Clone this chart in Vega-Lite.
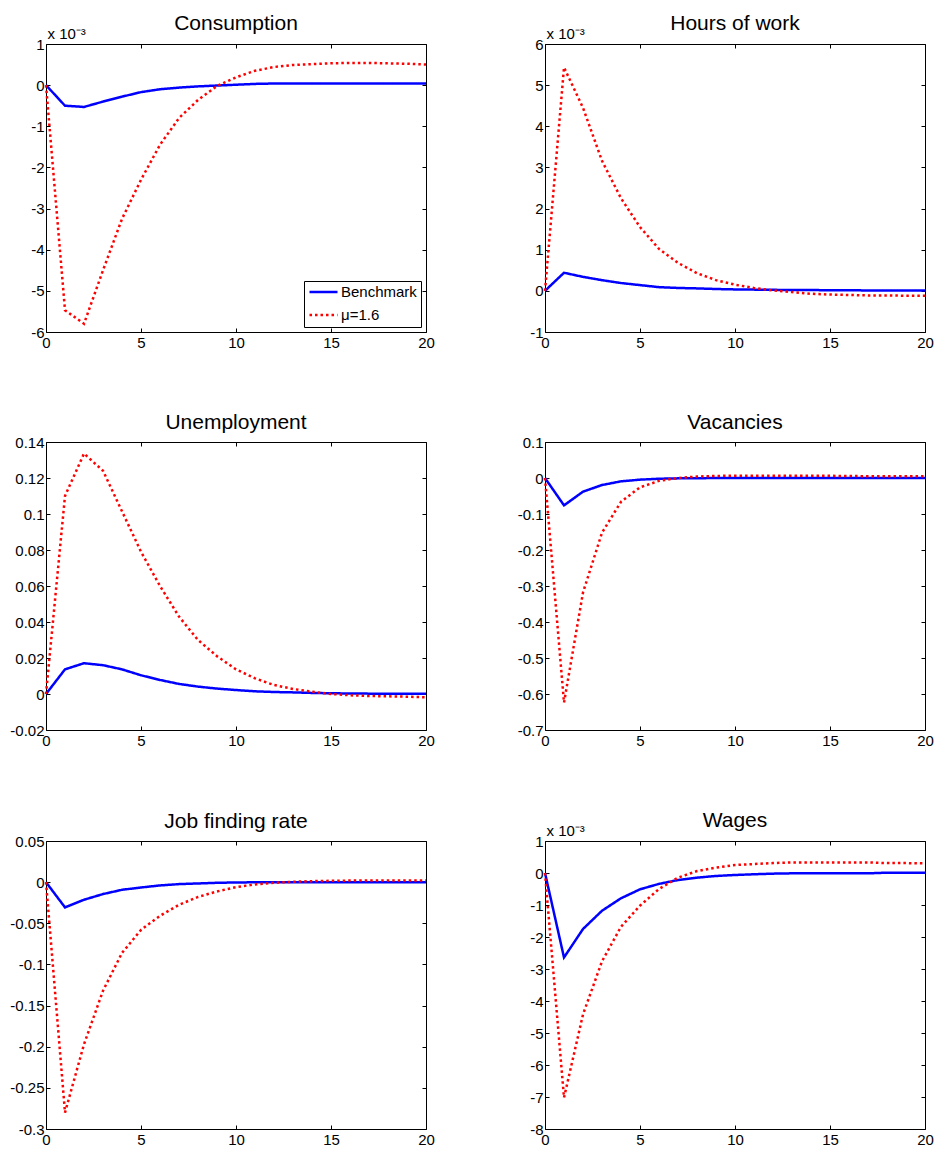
{
"$schema": "https://vega.github.io/schema/vega-lite/v6.json",
"background": "white",
"padding": {"left": 5, "top": 12, "right": 0, "bottom": 0},
"autosize": {"type": "pad"},
"data": {"values": [
{"panel":"Consumption","series":"Benchmark","t":0,"value":0},
{"panel":"Consumption","series":"Benchmark","t":1,"value":-0.5e-3},
{"panel":"Consumption","series":"Benchmark","t":2,"value":-0.53e-3},
{"panel":"Consumption","series":"Benchmark","t":3,"value":-0.4e-3},
{"panel":"Consumption","series":"Benchmark","t":4,"value":-0.28e-3},
{"panel":"Consumption","series":"Benchmark","t":5,"value":-0.17e-3},
{"panel":"Consumption","series":"Benchmark","t":6,"value":-0.1e-3},
{"panel":"Consumption","series":"Benchmark","t":7,"value":-0.06e-3},
{"panel":"Consumption","series":"Benchmark","t":8,"value":-0.03e-3},
{"panel":"Consumption","series":"Benchmark","t":9,"value":-0.01e-3},
{"panel":"Consumption","series":"Benchmark","t":10,"value":0.01e-3},
{"panel":"Consumption","series":"Benchmark","t":11,"value":0.03e-3},
{"panel":"Consumption","series":"Benchmark","t":12,"value":0.04e-3},
{"panel":"Consumption","series":"Benchmark","t":13,"value":0.04e-3},
{"panel":"Consumption","series":"Benchmark","t":14,"value":0.04e-3},
{"panel":"Consumption","series":"Benchmark","t":15,"value":0.04e-3},
{"panel":"Consumption","series":"Benchmark","t":16,"value":0.04e-3},
{"panel":"Consumption","series":"Benchmark","t":17,"value":0.04e-3},
{"panel":"Consumption","series":"Benchmark","t":18,"value":0.04e-3},
{"panel":"Consumption","series":"Benchmark","t":19,"value":0.04e-3},
{"panel":"Consumption","series":"Benchmark","t":20,"value":0.04e-3},
{"panel":"Consumption","series":"μ=1.6","t":0,"value":0},
{"panel":"Consumption","series":"μ=1.6","t":1,"value":-5.47e-3},
{"panel":"Consumption","series":"μ=1.6","t":2,"value":-5.8e-3},
{"panel":"Consumption","series":"μ=1.6","t":3,"value":-4.5e-3},
{"panel":"Consumption","series":"μ=1.6","t":4,"value":-3.25e-3},
{"panel":"Consumption","series":"μ=1.6","t":5,"value":-2.3e-3},
{"panel":"Consumption","series":"μ=1.6","t":6,"value":-1.45e-3},
{"panel":"Consumption","series":"μ=1.6","t":7,"value":-0.8e-3},
{"panel":"Consumption","series":"μ=1.6","t":8,"value":-0.36e-3},
{"panel":"Consumption","series":"μ=1.6","t":9,"value":-0.02e-3},
{"panel":"Consumption","series":"μ=1.6","t":10,"value":0.19e-3},
{"panel":"Consumption","series":"μ=1.6","t":11,"value":0.35e-3},
{"panel":"Consumption","series":"μ=1.6","t":12,"value":0.44e-3},
{"panel":"Consumption","series":"μ=1.6","t":13,"value":0.49e-3},
{"panel":"Consumption","series":"μ=1.6","t":14,"value":0.51e-3},
{"panel":"Consumption","series":"μ=1.6","t":15,"value":0.53e-3},
{"panel":"Consumption","series":"μ=1.6","t":16,"value":0.54e-3},
{"panel":"Consumption","series":"μ=1.6","t":17,"value":0.54e-3},
{"panel":"Consumption","series":"μ=1.6","t":18,"value":0.53e-3},
{"panel":"Consumption","series":"μ=1.6","t":19,"value":0.52e-3},
{"panel":"Consumption","series":"μ=1.6","t":20,"value":0.5e-3},
{"panel":"Hours","series":"Benchmark","t":0,"value":0},
{"panel":"Hours","series":"Benchmark","t":1,"value":0.44e-3},
{"panel":"Hours","series":"Benchmark","t":2,"value":0.34e-3},
{"panel":"Hours","series":"Benchmark","t":3,"value":0.26e-3},
{"panel":"Hours","series":"Benchmark","t":4,"value":0.19e-3},
{"panel":"Hours","series":"Benchmark","t":5,"value":0.14e-3},
{"panel":"Hours","series":"Benchmark","t":6,"value":0.09e-3},
{"panel":"Hours","series":"Benchmark","t":7,"value":0.07e-3},
{"panel":"Hours","series":"Benchmark","t":8,"value":0.06e-3},
{"panel":"Hours","series":"Benchmark","t":9,"value":0.045e-3},
{"panel":"Hours","series":"Benchmark","t":10,"value":0.035e-3},
{"panel":"Hours","series":"Benchmark","t":11,"value":0.03e-3},
{"panel":"Hours","series":"Benchmark","t":12,"value":0.025e-3},
{"panel":"Hours","series":"Benchmark","t":13,"value":0.02e-3},
{"panel":"Hours","series":"Benchmark","t":14,"value":0.02e-3},
{"panel":"Hours","series":"Benchmark","t":15,"value":0.015e-3},
{"panel":"Hours","series":"Benchmark","t":16,"value":0.015e-3},
{"panel":"Hours","series":"Benchmark","t":17,"value":0.01e-3},
{"panel":"Hours","series":"Benchmark","t":18,"value":0.01e-3},
{"panel":"Hours","series":"Benchmark","t":19,"value":0.01e-3},
{"panel":"Hours","series":"Benchmark","t":20,"value":0.01e-3},
{"panel":"Hours","series":"μ=1.6","t":0,"value":0},
{"panel":"Hours","series":"μ=1.6","t":1,"value":5.43e-3},
{"panel":"Hours","series":"μ=1.6","t":2,"value":4.45e-3},
{"panel":"Hours","series":"μ=1.6","t":3,"value":3.16e-3},
{"panel":"Hours","series":"μ=1.6","t":4,"value":2.25e-3},
{"panel":"Hours","series":"μ=1.6","t":5,"value":1.55e-3},
{"panel":"Hours","series":"μ=1.6","t":6,"value":1.02e-3},
{"panel":"Hours","series":"μ=1.6","t":7,"value":0.68e-3},
{"panel":"Hours","series":"μ=1.6","t":8,"value":0.43e-3},
{"panel":"Hours","series":"μ=1.6","t":9,"value":0.26e-3},
{"panel":"Hours","series":"μ=1.6","t":10,"value":0.15e-3},
{"panel":"Hours","series":"μ=1.6","t":11,"value":0.07e-3},
{"panel":"Hours","series":"μ=1.6","t":12,"value":0.01e-3},
{"panel":"Hours","series":"μ=1.6","t":13,"value":-0.03e-3},
{"panel":"Hours","series":"μ=1.6","t":14,"value":-0.07e-3},
{"panel":"Hours","series":"μ=1.6","t":15,"value":-0.09e-3},
{"panel":"Hours","series":"μ=1.6","t":16,"value":-0.1e-3},
{"panel":"Hours","series":"μ=1.6","t":17,"value":-0.11e-3},
{"panel":"Hours","series":"μ=1.6","t":18,"value":-0.11e-3},
{"panel":"Hours","series":"μ=1.6","t":19,"value":-0.12e-3},
{"panel":"Hours","series":"μ=1.6","t":20,"value":-0.12e-3},
{"panel":"Unemployment","series":"Benchmark","t":0,"value":0},
{"panel":"Unemployment","series":"Benchmark","t":1,"value":0.0137},
{"panel":"Unemployment","series":"Benchmark","t":2,"value":0.0171},
{"panel":"Unemployment","series":"Benchmark","t":3,"value":0.016},
{"panel":"Unemployment","series":"Benchmark","t":4,"value":0.0137},
{"panel":"Unemployment","series":"Benchmark","t":5,"value":0.0104},
{"panel":"Unemployment","series":"Benchmark","t":6,"value":0.0078},
{"panel":"Unemployment","series":"Benchmark","t":7,"value":0.0056},
{"panel":"Unemployment","series":"Benchmark","t":8,"value":0.0041},
{"panel":"Unemployment","series":"Benchmark","t":9,"value":0.003},
{"panel":"Unemployment","series":"Benchmark","t":10,"value":0.0022},
{"panel":"Unemployment","series":"Benchmark","t":11,"value":0.0015},
{"panel":"Unemployment","series":"Benchmark","t":12,"value":0.0011},
{"panel":"Unemployment","series":"Benchmark","t":13,"value":0.0009},
{"panel":"Unemployment","series":"Benchmark","t":14,"value":0.0006},
{"panel":"Unemployment","series":"Benchmark","t":15,"value":0.0004},
{"panel":"Unemployment","series":"Benchmark","t":16,"value":0.0003},
{"panel":"Unemployment","series":"Benchmark","t":17,"value":0.0002},
{"panel":"Unemployment","series":"Benchmark","t":18,"value":0.0002},
{"panel":"Unemployment","series":"Benchmark","t":19,"value":0.0001},
{"panel":"Unemployment","series":"Benchmark","t":20,"value":0.0001},
{"panel":"Unemployment","series":"μ=1.6","t":0,"value":0},
{"panel":"Unemployment","series":"μ=1.6","t":1,"value":0.11},
{"panel":"Unemployment","series":"μ=1.6","t":2,"value":0.1336},
{"panel":"Unemployment","series":"μ=1.6","t":3,"value":0.124},
{"panel":"Unemployment","series":"μ=1.6","t":4,"value":0.1015},
{"panel":"Unemployment","series":"μ=1.6","t":5,"value":0.079},
{"panel":"Unemployment","series":"μ=1.6","t":6,"value":0.06},
{"panel":"Unemployment","series":"μ=1.6","t":7,"value":0.043},
{"panel":"Unemployment","series":"μ=1.6","t":8,"value":0.03},
{"panel":"Unemployment","series":"μ=1.6","t":9,"value":0.021},
{"panel":"Unemployment","series":"μ=1.6","t":10,"value":0.0137},
{"panel":"Unemployment","series":"μ=1.6","t":11,"value":0.0087},
{"panel":"Unemployment","series":"μ=1.6","t":12,"value":0.005},
{"panel":"Unemployment","series":"μ=1.6","t":13,"value":0.0028},
{"panel":"Unemployment","series":"μ=1.6","t":14,"value":0.0013},
{"panel":"Unemployment","series":"μ=1.6","t":15,"value":0},
{"panel":"Unemployment","series":"μ=1.6","t":16,"value":-0.0007},
{"panel":"Unemployment","series":"μ=1.6","t":17,"value":-0.0011},
{"panel":"Unemployment","series":"μ=1.6","t":18,"value":-0.0013},
{"panel":"Unemployment","series":"μ=1.6","t":19,"value":-0.0015},
{"panel":"Unemployment","series":"μ=1.6","t":20,"value":-0.0018},
{"panel":"Vacancies","series":"Benchmark","t":0,"value":0},
{"panel":"Vacancies","series":"Benchmark","t":1,"value":-0.076},
{"panel":"Vacancies","series":"Benchmark","t":2,"value":-0.038},
{"panel":"Vacancies","series":"Benchmark","t":3,"value":-0.0195},
{"panel":"Vacancies","series":"Benchmark","t":4,"value":-0.0093},
{"panel":"Vacancies","series":"Benchmark","t":5,"value":-0.0046},
{"panel":"Vacancies","series":"Benchmark","t":6,"value":-0.002},
{"panel":"Vacancies","series":"Benchmark","t":7,"value":-0.001},
{"panel":"Vacancies","series":"Benchmark","t":8,"value":-0.0005},
{"panel":"Vacancies","series":"Benchmark","t":9,"value":-0.0002},
{"panel":"Vacancies","series":"Benchmark","t":10,"value":0},
{"panel":"Vacancies","series":"Benchmark","t":11,"value":0},
{"panel":"Vacancies","series":"Benchmark","t":12,"value":0},
{"panel":"Vacancies","series":"Benchmark","t":13,"value":0},
{"panel":"Vacancies","series":"Benchmark","t":14,"value":0},
{"panel":"Vacancies","series":"Benchmark","t":15,"value":0},
{"panel":"Vacancies","series":"Benchmark","t":16,"value":0},
{"panel":"Vacancies","series":"Benchmark","t":17,"value":0},
{"panel":"Vacancies","series":"Benchmark","t":18,"value":0},
{"panel":"Vacancies","series":"Benchmark","t":19,"value":0},
{"panel":"Vacancies","series":"Benchmark","t":20,"value":0},
{"panel":"Vacancies","series":"μ=1.6","t":0,"value":0},
{"panel":"Vacancies","series":"μ=1.6","t":1,"value":-0.624},
{"panel":"Vacancies","series":"μ=1.6","t":2,"value":-0.318},
{"panel":"Vacancies","series":"μ=1.6","t":3,"value":-0.152},
{"panel":"Vacancies","series":"μ=1.6","t":4,"value":-0.066},
{"panel":"Vacancies","series":"μ=1.6","t":5,"value":-0.026},
{"panel":"Vacancies","series":"μ=1.6","t":6,"value":-0.008},
{"panel":"Vacancies","series":"μ=1.6","t":7,"value":0},
{"panel":"Vacancies","series":"μ=1.6","t":8,"value":0.004},
{"panel":"Vacancies","series":"μ=1.6","t":9,"value":0.0056},
{"panel":"Vacancies","series":"μ=1.6","t":10,"value":0.0065},
{"panel":"Vacancies","series":"μ=1.6","t":11,"value":0.0065},
{"panel":"Vacancies","series":"μ=1.6","t":12,"value":0.0065},
{"panel":"Vacancies","series":"μ=1.6","t":13,"value":0.006},
{"panel":"Vacancies","series":"μ=1.6","t":14,"value":0.006},
{"panel":"Vacancies","series":"μ=1.6","t":15,"value":0.006},
{"panel":"Vacancies","series":"μ=1.6","t":16,"value":0.0055},
{"panel":"Vacancies","series":"μ=1.6","t":17,"value":0.005},
{"panel":"Vacancies","series":"μ=1.6","t":18,"value":0.005},
{"panel":"Vacancies","series":"μ=1.6","t":19,"value":0.005},
{"panel":"Vacancies","series":"μ=1.6","t":20,"value":0.005},
{"panel":"Job","series":"Benchmark","t":0,"value":0},
{"panel":"Job","series":"Benchmark","t":1,"value":-0.0307},
{"panel":"Job","series":"Benchmark","t":2,"value":-0.0214},
{"panel":"Job","series":"Benchmark","t":3,"value":-0.0145},
{"panel":"Job","series":"Benchmark","t":4,"value":-0.0093},
{"panel":"Job","series":"Benchmark","t":5,"value":-0.0065},
{"panel":"Job","series":"Benchmark","t":6,"value":-0.004},
{"panel":"Job","series":"Benchmark","t":7,"value":-0.0024},
{"panel":"Job","series":"Benchmark","t":8,"value":-0.0016},
{"panel":"Job","series":"Benchmark","t":9,"value":-0.0008},
{"panel":"Job","series":"Benchmark","t":10,"value":-0.0004},
{"panel":"Job","series":"Benchmark","t":11,"value":-0.0002},
{"panel":"Job","series":"Benchmark","t":12,"value":0},
{"panel":"Job","series":"Benchmark","t":13,"value":0},
{"panel":"Job","series":"Benchmark","t":14,"value":0},
{"panel":"Job","series":"Benchmark","t":15,"value":0},
{"panel":"Job","series":"Benchmark","t":16,"value":0},
{"panel":"Job","series":"Benchmark","t":17,"value":0},
{"panel":"Job","series":"Benchmark","t":18,"value":0},
{"panel":"Job","series":"Benchmark","t":19,"value":0},
{"panel":"Job","series":"Benchmark","t":20,"value":0},
{"panel":"Job","series":"μ=1.6","t":0,"value":0},
{"panel":"Job","series":"μ=1.6","t":1,"value":-0.28},
{"panel":"Job","series":"μ=1.6","t":2,"value":-0.197},
{"panel":"Job","series":"μ=1.6","t":3,"value":-0.132},
{"panel":"Job","series":"μ=1.6","t":4,"value":-0.086},
{"panel":"Job","series":"μ=1.6","t":5,"value":-0.058},
{"panel":"Job","series":"μ=1.6","t":6,"value":-0.041},
{"panel":"Job","series":"μ=1.6","t":7,"value":-0.0275},
{"panel":"Job","series":"μ=1.6","t":8,"value":-0.018},
{"panel":"Job","series":"μ=1.6","t":9,"value":-0.0113},
{"panel":"Job","series":"μ=1.6","t":10,"value":-0.006},
{"panel":"Job","series":"μ=1.6","t":11,"value":-0.0028},
{"panel":"Job","series":"μ=1.6","t":12,"value":-0.0008},
{"panel":"Job","series":"μ=1.6","t":13,"value":0.0004},
{"panel":"Job","series":"μ=1.6","t":14,"value":0.0012},
{"panel":"Job","series":"μ=1.6","t":15,"value":0.0016},
{"panel":"Job","series":"μ=1.6","t":16,"value":0.0019},
{"panel":"Job","series":"μ=1.6","t":17,"value":0.002},
{"panel":"Job","series":"μ=1.6","t":18,"value":0.002},
{"panel":"Job","series":"μ=1.6","t":19,"value":0.002},
{"panel":"Job","series":"μ=1.6","t":20,"value":0.002},
{"panel":"Wages","series":"Benchmark","t":0,"value":0},
{"panel":"Wages","series":"Benchmark","t":1,"value":-2.64e-3},
{"panel":"Wages","series":"Benchmark","t":2,"value":-1.75e-3},
{"panel":"Wages","series":"Benchmark","t":3,"value":-1.18e-3},
{"panel":"Wages","series":"Benchmark","t":4,"value":-0.79e-3},
{"panel":"Wages","series":"Benchmark","t":5,"value":-0.51e-3},
{"panel":"Wages","series":"Benchmark","t":6,"value":-0.34e-3},
{"panel":"Wages","series":"Benchmark","t":7,"value":-0.22e-3},
{"panel":"Wages","series":"Benchmark","t":8,"value":-0.145e-3},
{"panel":"Wages","series":"Benchmark","t":9,"value":-0.093e-3},
{"panel":"Wages","series":"Benchmark","t":10,"value":-0.062e-3},
{"panel":"Wages","series":"Benchmark","t":11,"value":-0.04e-3},
{"panel":"Wages","series":"Benchmark","t":12,"value":-0.02e-3},
{"panel":"Wages","series":"Benchmark","t":13,"value":-0.01e-3},
{"panel":"Wages","series":"Benchmark","t":14,"value":-0.01e-3},
{"panel":"Wages","series":"Benchmark","t":15,"value":-0.01e-3},
{"panel":"Wages","series":"Benchmark","t":16,"value":-0.01e-3},
{"panel":"Wages","series":"Benchmark","t":17,"value":-0.01e-3},
{"panel":"Wages","series":"Benchmark","t":18,"value":0.01e-3},
{"panel":"Wages","series":"Benchmark","t":19,"value":0.01e-3},
{"panel":"Wages","series":"Benchmark","t":20,"value":0.01e-3},
{"panel":"Wages","series":"μ=1.6","t":0,"value":0},
{"panel":"Wages","series":"μ=1.6","t":1,"value":-7.02e-3},
{"panel":"Wages","series":"μ=1.6","t":2,"value":-4.42e-3},
{"panel":"Wages","series":"μ=1.6","t":3,"value":-2.76e-3},
{"panel":"Wages","series":"μ=1.6","t":4,"value":-1.68e-3},
{"panel":"Wages","series":"μ=1.6","t":5,"value":-1.02e-3},
{"panel":"Wages","series":"μ=1.6","t":6,"value":-0.5e-3},
{"panel":"Wages","series":"μ=1.6","t":7,"value":-0.145e-3},
{"panel":"Wages","series":"μ=1.6","t":8,"value":0.06e-3},
{"panel":"Wages","series":"μ=1.6","t":9,"value":0.17e-3},
{"panel":"Wages","series":"μ=1.6","t":10,"value":0.25e-3},
{"panel":"Wages","series":"μ=1.6","t":11,"value":0.28e-3},
{"panel":"Wages","series":"μ=1.6","t":12,"value":0.31e-3},
{"panel":"Wages","series":"μ=1.6","t":13,"value":0.33e-3},
{"panel":"Wages","series":"μ=1.6","t":14,"value":0.33e-3},
{"panel":"Wages","series":"μ=1.6","t":15,"value":0.33e-3},
{"panel":"Wages","series":"μ=1.6","t":16,"value":0.33e-3},
{"panel":"Wages","series":"μ=1.6","t":17,"value":0.33e-3},
{"panel":"Wages","series":"μ=1.6","t":18,"value":0.31e-3},
{"panel":"Wages","series":"μ=1.6","t":19,"value":0.31e-3},
{"panel":"Wages","series":"μ=1.6","t":20,"value":0.3e-3}
]},
"columns": 2,
"spacing": {"row": 60, "column": 69},
"concat": [
{
 "title": {"text": "Consumption", "offset": -8},
 "width": 380, "height": 288,
 "transform": [{"filter": "datum.panel === 'Consumption'"}],
 "layer": [
  {"mark": {"type": "line", "strokeWidth": 2.5},
   "encoding": {
    "x": {"field": "t", "type": "quantitative", "scale": {"domain": [0, 20], "nice": false}, "axis": {"values": [0, 5, 10, 15, 20], "title": null}},
    "y": {"field": "value", "type": "quantitative", "scale": {"domain": [-0.006, 0.001], "nice": false, "zero": false}, "axis": {"values": [-0.006, -0.005, -0.004, -0.003, -0.002, -0.001, 0, 0.001], "title": "x 10⁻³", "labelExpr": "replace(format(datum.value*1000,'.0f'),'−','-')"}},
    "color": {"field": "series", "type": "nominal", "scale": {"domain": ["Benchmark", "μ=1.6"], "range": ["#0000ff", "#ff0000"]}, "legend": {"title": null}},
    "strokeDash": {"field": "series", "type": "nominal", "scale": {"domain": ["Benchmark", "μ=1.6"], "range": [[1, 0], [2.5, 3]]}, "legend": {"title": null}}
   }},
  {"mark": {"type": "line", "opacity": 0},
   "encoding": {
    "x": {"field": "t", "type": "quantitative", "axis": {"orient": "top", "labels": false, "values": [0, 5, 10, 15, 20], "title": null}},
    "y": {"field": "value", "type": "quantitative", "axis": {"orient": "right", "labels": false, "values": [-0.006, -0.005, -0.004, -0.003, -0.002, -0.001, 0, 0.001], "title": null}}
   }}
 ],
 "resolve": {"axis": {"x": "independent", "y": "independent"}}
},
{
 "title": {"text": "Hours of work", "offset": -8},
 "width": 380, "height": 288,
 "transform": [{"filter": "datum.panel === 'Hours'"}],
 "layer": [
  {"mark": {"type": "line", "strokeWidth": 2.5},
   "encoding": {
    "x": {"field": "t", "type": "quantitative", "scale": {"domain": [0, 20], "nice": false}, "axis": {"values": [0, 5, 10, 15, 20], "title": null}},
    "y": {"field": "value", "type": "quantitative", "scale": {"domain": [-0.001, 0.006], "nice": false, "zero": false}, "axis": {"values": [-0.001, 0, 0.001, 0.002, 0.003, 0.004, 0.005, 0.006], "title": "x 10⁻³", "labelExpr": "replace(format(datum.value*1000,'.0f'),'−','-')"}},
    "color": {"field": "series", "type": "nominal", "scale": {"domain": ["Benchmark", "μ=1.6"], "range": ["#0000ff", "#ff0000"]}, "legend": null},
    "strokeDash": {"field": "series", "type": "nominal", "scale": {"domain": ["Benchmark", "μ=1.6"], "range": [[1, 0], [2.5, 3]]}, "legend": null}
   }},
  {"mark": {"type": "line", "opacity": 0},
   "encoding": {
    "x": {"field": "t", "type": "quantitative", "axis": {"orient": "top", "labels": false, "values": [0, 5, 10, 15, 20], "title": null}},
    "y": {"field": "value", "type": "quantitative", "axis": {"orient": "right", "labels": false, "values": [-0.001, 0, 0.001, 0.002, 0.003, 0.004, 0.005, 0.006], "title": null}}
   }}
 ],
 "resolve": {"axis": {"x": "independent", "y": "independent"}}
},
{
 "title": {"text": "Unemployment", "offset": 2.5},
 "width": 380, "height": 288,
 "transform": [{"filter": "datum.panel === 'Unemployment'"}],
 "layer": [
  {"mark": {"type": "line", "strokeWidth": 2.5},
   "encoding": {
    "x": {"field": "t", "type": "quantitative", "scale": {"domain": [0, 20], "nice": false}, "axis": {"values": [0, 5, 10, 15, 20], "title": null}},
    "y": {"field": "value", "type": "quantitative", "scale": {"domain": [-0.02, 0.14], "nice": false, "zero": false}, "axis": {"values": [-0.02, 0, 0.02, 0.04, 0.06, 0.08, 0.1, 0.12, 0.14], "title": null, "labelExpr": "replace(format(datum.value,'.4~g'),'−','-')"}},
    "color": {"field": "series", "type": "nominal", "scale": {"domain": ["Benchmark", "μ=1.6"], "range": ["#0000ff", "#ff0000"]}, "legend": null},
    "strokeDash": {"field": "series", "type": "nominal", "scale": {"domain": ["Benchmark", "μ=1.6"], "range": [[1, 0], [2.5, 3]]}, "legend": null}
   }},
  {"mark": {"type": "line", "opacity": 0},
   "encoding": {
    "x": {"field": "t", "type": "quantitative", "axis": {"orient": "top", "labels": false, "values": [0, 5, 10, 15, 20], "title": null}},
    "y": {"field": "value", "type": "quantitative", "axis": {"orient": "right", "labels": false, "values": [-0.02, 0, 0.02, 0.04, 0.06, 0.08, 0.1, 0.12, 0.14], "title": null}}
   }}
 ],
 "resolve": {"axis": {"x": "independent", "y": "independent"}}
},
{
 "title": {"text": "Vacancies", "offset": 2.5},
 "width": 380, "height": 288,
 "transform": [{"filter": "datum.panel === 'Vacancies'"}],
 "layer": [
  {"mark": {"type": "line", "strokeWidth": 2.5},
   "encoding": {
    "x": {"field": "t", "type": "quantitative", "scale": {"domain": [0, 20], "nice": false}, "axis": {"values": [0, 5, 10, 15, 20], "title": null}},
    "y": {"field": "value", "type": "quantitative", "scale": {"domain": [-0.7, 0.1], "nice": false, "zero": false}, "axis": {"values": [-0.7, -0.6, -0.5, -0.4, -0.3, -0.2, -0.1, 0, 0.1], "title": null, "labelExpr": "replace(format(datum.value,'.4~g'),'−','-')"}},
    "color": {"field": "series", "type": "nominal", "scale": {"domain": ["Benchmark", "μ=1.6"], "range": ["#0000ff", "#ff0000"]}, "legend": null},
    "strokeDash": {"field": "series", "type": "nominal", "scale": {"domain": ["Benchmark", "μ=1.6"], "range": [[1, 0], [2.5, 3]]}, "legend": null}
   }},
  {"mark": {"type": "line", "opacity": 0},
   "encoding": {
    "x": {"field": "t", "type": "quantitative", "axis": {"orient": "top", "labels": false, "values": [0, 5, 10, 15, 20], "title": null}},
    "y": {"field": "value", "type": "quantitative", "axis": {"orient": "right", "labels": false, "values": [-0.7, -0.6, -0.5, -0.4, -0.3, -0.2, -0.1, 0, 0.1], "title": null}}
   }}
 ],
 "resolve": {"axis": {"x": "independent", "y": "independent"}}
},
{
 "title": {"text": "Job finding rate", "offset": 2.5},
 "width": 380, "height": 288,
 "transform": [{"filter": "datum.panel === 'Job'"}],
 "layer": [
  {"mark": {"type": "line", "strokeWidth": 2.5},
   "encoding": {
    "x": {"field": "t", "type": "quantitative", "scale": {"domain": [0, 20], "nice": false}, "axis": {"values": [0, 5, 10, 15, 20], "title": null}},
    "y": {"field": "value", "type": "quantitative", "scale": {"domain": [-0.3, 0.05], "nice": false, "zero": false}, "axis": {"values": [-0.3, -0.25, -0.2, -0.15, -0.1, -0.05, 0, 0.05], "title": null, "labelExpr": "replace(format(datum.value,'.4~g'),'−','-')"}},
    "color": {"field": "series", "type": "nominal", "scale": {"domain": ["Benchmark", "μ=1.6"], "range": ["#0000ff", "#ff0000"]}, "legend": null},
    "strokeDash": {"field": "series", "type": "nominal", "scale": {"domain": ["Benchmark", "μ=1.6"], "range": [[1, 0], [2.5, 3]]}, "legend": null}
   }},
  {"mark": {"type": "line", "opacity": 0},
   "encoding": {
    "x": {"field": "t", "type": "quantitative", "axis": {"orient": "top", "labels": false, "values": [0, 5, 10, 15, 20], "title": null}},
    "y": {"field": "value", "type": "quantitative", "axis": {"orient": "right", "labels": false, "values": [-0.3, -0.25, -0.2, -0.15, -0.1, -0.05, 0, 0.05], "title": null}}
   }}
 ],
 "resolve": {"axis": {"x": "independent", "y": "independent"}}
},
{
 "title": {"text": "Wages", "offset": -8},
 "width": 380, "height": 288,
 "transform": [{"filter": "datum.panel === 'Wages'"}],
 "layer": [
  {"mark": {"type": "line", "strokeWidth": 2.5},
   "encoding": {
    "x": {"field": "t", "type": "quantitative", "scale": {"domain": [0, 20], "nice": false}, "axis": {"values": [0, 5, 10, 15, 20], "title": null}},
    "y": {"field": "value", "type": "quantitative", "scale": {"domain": [-0.008, 0.001], "nice": false, "zero": false}, "axis": {"values": [-0.008, -0.007, -0.006, -0.005, -0.004, -0.003, -0.002, -0.001, 0, 0.001], "title": "x 10⁻³", "labelExpr": "replace(format(datum.value*1000,'.0f'),'−','-')"}},
    "color": {"field": "series", "type": "nominal", "scale": {"domain": ["Benchmark", "μ=1.6"], "range": ["#0000ff", "#ff0000"]}, "legend": null},
    "strokeDash": {"field": "series", "type": "nominal", "scale": {"domain": ["Benchmark", "μ=1.6"], "range": [[1, 0], [2.5, 3]]}, "legend": null}
   }},
  {"mark": {"type": "line", "opacity": 0},
   "encoding": {
    "x": {"field": "t", "type": "quantitative", "axis": {"orient": "top", "labels": false, "values": [0, 5, 10, 15, 20], "title": null}},
    "y": {"field": "value", "type": "quantitative", "axis": {"orient": "right", "labels": false, "values": [-0.008, -0.007, -0.006, -0.005, -0.004, -0.003, -0.002, -0.001, 0, 0.001], "title": null}}
   }}
 ],
 "resolve": {"axis": {"x": "independent", "y": "independent"}}
}
],
"resolve": {
 "scale": {"color": "independent", "strokeDash": "independent"},
 "legend": {"color": "independent", "strokeDash": "independent"}
},
"config": {
 "view": {"stroke": "black", "strokeWidth": 1},
 "font": "Liberation Sans",
 "axis": {"grid": false, "domain": false, "ticks": true, "tickSize": -4, "tickColor": "black", "tickWidth": 1, "labelFont": "Liberation Sans", "labelFontSize": 15, "labelColor": "black", "labelOverlap": false, "labelFlush": false},
 "axisLeft": {"minExtent": 40, "labelPadding": 6, "titleAngle": 0, "titleAlign": "left", "titleBaseline": "alphabetic", "titleX": 1, "titleY": -6, "titleFont": "Liberation Sans", "titleFontSize": 15, "titleFontWeight": "normal", "titleColor": "black"},
 "axisBottom": {"labelPadding": 7},
 "axisRight": {"minExtent": 0},
 "axisTop": {"minExtent": 0},
 "title": {"font": "Liberation Sans", "fontSize": 21, "fontWeight": "normal", "color": "black", "frame": "group", "anchor": "middle", "baseline": "bottom"},
 "legend": {"orient": "bottom-right", "offset": 5, "padding": 4, "strokeColor": "black", "fillColor": "white", "symbolType": "stroke", "symbolSize": 784, "symbolStrokeWidth": 2.5, "labelFont": "Liberation Sans", "labelFontSize": 15, "labelColor": "black", "rowPadding": 8, "clipHeight": 14, "labelOffset": 2}
}
}
